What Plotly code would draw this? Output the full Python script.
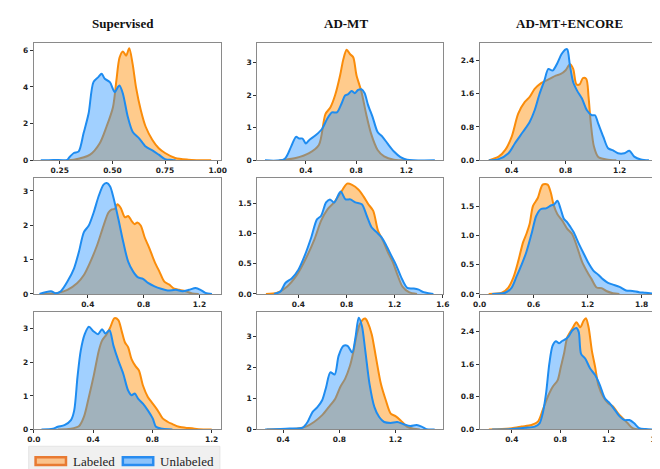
import plotly.graph_objects as go

# ---------------- data (density curves) ----------------
methods = ["Supervised", "AD-MT", "AD-MT+ENCORE"]
series_names = ["Labeled", "Unlabeled"]

# Row 1
r1_sup_lab_x = [0.286, 0.317, 0.394, 0.44, 0.472, 0.503, 0.519, 0.534, 0.55, 0.565, 0.58, 0.596, 0.612, 0.635, 0.658, 0.69, 0.72, 0.75, 0.798, 0.86, 0.969]
r1_sup_lab_y = [0.0, 0.03, 0.31, 0.93, 1.83, 2.91, 4.35, 5.6, 5.93, 5.7, 6.1, 5.25, 3.99, 2.73, 1.83, 1.11, 0.66, 0.40, 0.13, 0.04, 0.0]
r1_sup_unl_x = [0.16, 0.22, 0.286, 0.293, 0.317, 0.34, 0.363, 0.387, 0.41, 0.433, 0.449, 0.464, 0.488, 0.511, 0.526, 0.534, 0.55, 0.573, 0.596, 0.627, 0.658, 0.69, 0.72, 0.75, 0.783, 0.80]
r1_sup_unl_y = [0.0, 0.02, 0.03, 0.13, 0.40, 0.49, 1.47, 2.55, 4.26, 4.53, 4.71, 4.44, 4.26, 3.72, 3.99, 4.08, 3.63, 2.37, 1.56, 1.2, 0.75, 0.54, 0.31, 0.07, 0.02, 0.0]

r1_adm_lab_x = [0.19, 0.32, 0.426, 0.504, 0.556, 0.595, 0.634, 0.673, 0.699, 0.725, 0.751, 0.777, 0.803, 0.842, 0.88, 0.919, 0.971, 1.023, 1.1, 1.2]
r1_adm_lab_y = [0.0, 0.07, 0.22, 0.47, 1.42, 1.62, 2.01, 2.61, 3.11, 3.39, 3.26, 3.16, 2.61, 2.11, 1.42, 0.82, 0.32, 0.12, 0.02, 0.0]
r1_adm_unl_x = [0.075, 0.23, 0.283, 0.322, 0.348, 0.374, 0.4, 0.426, 0.478, 0.53, 0.569, 0.608, 0.647, 0.686, 0.712, 0.738, 0.764, 0.79, 0.816, 0.842, 0.868, 0.894, 0.932, 0.971, 1.01, 1.049, 1.101, 1.153, 1.205, 1.426]
r1_adm_unl_y = [0.0, 0.04, 0.42, 0.72, 0.67, 0.67, 0.52, 0.62, 0.77, 0.97, 1.27, 1.47, 1.47, 1.76, 1.99, 2.03, 2.13, 2.06, 2.16, 2.18, 2.06, 1.71, 1.32, 0.87, 0.72, 0.52, 0.27, 0.10, 0.02, 0.0]

r1_enc_lab_x = [0.23, 0.303, 0.352, 0.4, 0.448, 0.497, 0.533, 0.57, 0.618, 0.655, 0.691, 0.727, 0.764, 0.8, 0.832, 0.856, 0.88, 0.904, 0.928, 0.953, 0.97, 0.987, 1.01, 1.042, 1.103, 1.176]
r1_enc_lab_y = [0.0, 0.09, 0.25, 0.57, 1.12, 1.40, 1.52, 1.71, 1.85, 1.91, 1.97, 2.03, 2.07, 2.16, 2.30, 2.19, 1.82, 1.82, 1.97, 1.95, 1.52, 0.88, 0.33, 0.08, 0.02, 0.0]
r1_enc_unl_x = [0.23, 0.303, 0.376, 0.424, 0.485, 0.533, 0.57, 0.606, 0.642, 0.672, 0.703, 0.74, 0.769, 0.8, 0.812, 0.832, 0.856, 0.885, 0.921, 0.958, 0.994, 1.018, 1.042, 1.079, 1.115, 1.152, 1.188, 1.236, 1.273, 1.309, 1.358, 1.418]
r1_enc_unl_y = [0.0, 0.03, 0.17, 0.41, 0.69, 0.92, 1.2, 1.59, 1.91, 2.19, 2.15, 2.34, 2.54, 2.66, 2.66, 2.27, 1.87, 1.67, 1.48, 1.2, 1.08, 1.08, 0.88, 0.57, 0.29, 0.24, 0.17, 0.17, 0.23, 0.09, 0.02, 0.0]

# Row 2
r2_sup_lab_x = [0.066, 0.184, 0.254, 0.325, 0.372, 0.419, 0.466, 0.513, 0.548, 0.572, 0.595, 0.612, 0.635, 0.666, 0.689, 0.713, 0.736, 0.755, 0.779, 0.807, 0.842, 0.878, 0.913, 0.948, 0.984, 1.019, 1.054, 1.101, 1.148, 1.195]
r2_sup_lab_y = [0.0, 0.03, 0.12, 0.32, 0.55, 0.94, 1.41, 1.99, 2.37, 2.46, 2.48, 2.61, 2.51, 2.23, 2.27, 2.13, 2.03, 2.08, 1.99, 1.65, 1.32, 0.94, 0.65, 0.36, 0.27, 0.15, 0.12, 0.08, 0.01, 0.0]
r2_sup_unl_x = [0.054, 0.136, 0.172, 0.207, 0.254, 0.301, 0.336, 0.372, 0.407, 0.442, 0.478, 0.513, 0.536, 0.56, 0.584, 0.619, 0.654, 0.689, 0.725, 0.76, 0.795, 0.831, 0.878, 0.925, 0.972, 1.031, 1.078, 1.125, 1.172, 1.207, 1.242, 1.289]
r2_sup_unl_y = [0.0, 0.08, 0.02, 0.08, 0.36, 0.74, 1.22, 1.8, 1.99, 2.37, 2.85, 3.18, 3.23, 3.13, 2.8, 2.18, 1.51, 0.94, 0.65, 0.48, 0.44, 0.32, 0.22, 0.15, 0.10, 0.12, 0.08, 0.12, 0.17, 0.12, 0.03, 0.0]

r2_adm_lab_x = [0.13, 0.224, 0.305, 0.386, 0.468, 0.535, 0.589, 0.643, 0.697, 0.751, 0.805, 0.846, 0.9, 0.941, 0.981, 1.022, 1.062, 1.103, 1.143, 1.184, 1.224, 1.265, 1.319, 1.386]
r2_adm_lab_y = [0.0, 0.02, 0.12, 0.31, 0.61, 0.91, 1.21, 1.40, 1.51, 1.67, 1.82, 1.80, 1.72, 1.61, 1.48, 1.37, 1.04, 0.88, 0.69, 0.53, 0.31, 0.12, 0.03, 0.0]
r2_adm_unl_x = [0.197, 0.251, 0.292, 0.346, 0.4, 0.454, 0.508, 0.554, 0.589, 0.63, 0.662, 0.697, 0.751, 0.792, 0.832, 0.873, 0.927, 0.968, 1.008, 1.049, 1.089, 1.13, 1.17, 1.211, 1.251, 1.305, 1.359, 1.4, 1.441, 1.522]
r2_adm_unl_y = [0.0, 0.04, 0.18, 0.26, 0.40, 0.64, 0.94, 1.23, 1.29, 1.51, 1.56, 1.51, 1.69, 1.56, 1.56, 1.51, 1.48, 1.29, 1.10, 1.02, 0.94, 0.80, 0.64, 0.48, 0.29, 0.10, 0.09, 0.07, 0.03, 0.0]

r2_enc_lab_x = [0.1, 0.247, 0.319, 0.374, 0.428, 0.483, 0.519, 0.555, 0.592, 0.646, 0.7, 0.755, 0.791, 0.82, 0.864, 0.918, 0.973, 1.027, 1.082, 1.136, 1.191, 1.245, 1.3, 1.354, 1.408, 1.481, 1.553]
r2_enc_lab_y = [0.0, 0.02, 0.11, 0.28, 0.56, 0.89, 1.03, 1.20, 1.51, 1.65, 1.88, 1.88, 1.74, 1.54, 1.37, 1.26, 1.12, 1.03, 0.81, 0.56, 0.39, 0.25, 0.11, 0.10, 0.05, 0.01, 0.0]
r2_enc_unl_x = [0.138, 0.283, 0.356, 0.41, 0.465, 0.519, 0.581, 0.628, 0.682, 0.737, 0.791, 0.828, 0.864, 0.9, 0.936, 0.973, 1.009, 1.045, 1.1, 1.154, 1.209, 1.263, 1.318, 1.372, 1.426, 1.481, 1.554, 1.626, 1.699, 1.771, 1.844, 1.953]
r2_enc_unl_y = [0.0, 0.02, 0.11, 0.30, 0.50, 0.72, 1.06, 1.34, 1.46, 1.47, 1.52, 1.54, 1.60, 1.46, 1.29, 1.23, 1.15, 1.06, 0.87, 0.70, 0.53, 0.40, 0.33, 0.25, 0.19, 0.16, 0.12, 0.06, 0.05, 0.03, 0.02, 0.0]

# Row 3
r3_sup_lab_x = [0.161, 0.25, 0.305, 0.338, 0.371, 0.404, 0.438, 0.46, 0.488, 0.515, 0.544, 0.57, 0.592, 0.614, 0.636, 0.659, 0.687, 0.709, 0.736, 0.769, 0.802, 0.835, 0.869, 0.902, 0.935, 0.979, 1.045, 1.112, 1.2]
r3_sup_lab_y = [0.0, 0.02, 0.10, 0.38, 0.97, 1.61, 2.35, 2.65, 2.82, 3.04, 3.32, 3.26, 2.94, 2.60, 2.45, 2.10, 1.88, 1.76, 1.31, 0.97, 0.77, 0.57, 0.33, 0.23, 0.16, 0.08, 0.04, 0.01, 0.0]
r3_sup_unl_x = [0.051, 0.128, 0.161, 0.206, 0.25, 0.272, 0.294, 0.316, 0.343, 0.371, 0.404, 0.433, 0.46, 0.482, 0.51, 0.537, 0.57, 0.603, 0.636, 0.659, 0.681, 0.703, 0.736, 0.769, 0.802, 0.824, 0.869, 0.935]
r3_sup_unl_y = [0.0, 0.02, 0.08, 0.13, 0.28, 0.57, 1.56, 2.35, 2.84, 3.06, 2.92, 2.84, 2.99, 2.86, 2.96, 2.50, 2.05, 1.66, 1.16, 1.02, 1.07, 0.92, 0.77, 0.57, 0.33, 0.08, 0.02, 0.0]

r3_adm_lab_x = [0.284, 0.493, 0.562, 0.62, 0.678, 0.725, 0.771, 0.806, 0.841, 0.876, 0.899, 0.922, 0.945, 0.968, 0.985, 1.003, 1.031, 1.061, 1.096, 1.131, 1.166, 1.2, 1.235, 1.282, 1.328, 1.374]
r3_adm_lab_y = [0.0, 0.02, 0.09, 0.24, 0.46, 0.72, 0.99, 1.36, 1.63, 2.05, 2.48, 3.01, 3.38, 3.54, 3.57, 3.44, 3.06, 2.32, 1.47, 0.94, 0.51, 0.43, 0.30, 0.09, 0.02, 0.0]
r3_adm_unl_x = [0.272, 0.446, 0.539, 0.574, 0.609, 0.644, 0.678, 0.706, 0.736, 0.767, 0.795, 0.829, 0.859, 0.892, 0.915, 0.938, 0.961, 0.985, 1.015, 1.05, 1.084, 1.119, 1.166, 1.212, 1.258, 1.305, 1.351, 1.386, 1.421, 1.479]
r3_adm_unl_y = [0.0, 0.03, 0.06, 0.24, 0.56, 0.72, 0.94, 1.36, 1.84, 1.77, 2.37, 2.69, 2.69, 2.48, 2.96, 3.60, 3.33, 2.53, 1.47, 0.72, 0.40, 0.24, 0.21, 0.24, 0.17, 0.11, 0.14, 0.09, 0.01, 0.0]

r3_enc_lab_x = [0.211, 0.319, 0.4, 0.481, 0.562, 0.616, 0.656, 0.697, 0.737, 0.778, 0.805, 0.831, 0.858, 0.899, 0.934, 0.966, 0.993, 1.012, 1.034, 1.061, 1.088, 1.115, 1.155, 1.196, 1.236, 1.276, 1.317, 1.357, 1.398, 1.452]
r3_enc_lab_y = [0.0, 0.01, 0.03, 0.07, 0.11, 0.19, 0.48, 0.80, 1.04, 1.20, 1.53, 1.85, 2.25, 2.46, 2.62, 2.50, 2.66, 2.72, 2.50, 1.93, 1.53, 1.08, 0.80, 0.64, 0.56, 0.40, 0.27, 0.15, 0.03, 0.0]
r3_enc_unl_x = [0.238, 0.4, 0.508, 0.589, 0.629, 0.656, 0.683, 0.71, 0.737, 0.764, 0.791, 0.818, 0.845, 0.872, 0.899, 0.934, 0.953, 0.972, 1.007, 1.047, 1.088, 1.128, 1.169, 1.209, 1.25, 1.29, 1.331, 1.371, 1.411, 1.452, 1.506, 1.56]
r3_enc_unl_y = [0.0, 0.01, 0.04, 0.07, 0.15, 0.40, 0.88, 1.61, 2.05, 2.16, 2.11, 2.17, 2.21, 2.29, 2.42, 2.48, 2.38, 1.85, 1.73, 1.49, 1.33, 1.08, 0.76, 0.64, 0.48, 0.32, 0.23, 0.23, 0.15, 0.03, 0.01, 0.0]

# axis settings per panel (row-major)
x_ranges = [[0.126, 1.015], [0.013, 1.494], [0.162, 1.515],
            [0.012, 1.353], [0.057, 1.605], [0.0, 2.026],
            [-0.002, 1.262], [0.215, 1.541], [0.135, 1.64]]
y_ranges = [[0, 6.41], [0, 3.61], [0, 2.82],
            [0, 3.37], [0, 1.91], [0, 1.99],
            [0, 3.51], [0, 3.79], [0, 2.88]]
x_ticks = [[0.25, 0.5, 0.75, 1.0], [0.4, 0.8, 1.2], [0.4, 0.8, 1.2],
           [0.4, 0.8, 1.2], [0.4, 0.8, 1.2, 1.6], [0.0, 0.6, 1.2, 1.8],
           [0.0, 0.4, 0.8, 1.2], [0.4, 0.8, 1.2], [0.4, 0.8, 1.2, 1.6]]
x_ticktext = [["0.25", "0.50", "0.75", "1.00"], ["0.4", "0.8", "1.2"], ["0.4", "0.8", "1.2"],
              ["0.4", "0.8", "1.2"], ["0.4", "0.8", "1.2", "1.6"], ["0.0", "0.6", "1.2", "1.8"],
              ["0.0", "0.4", "0.8", "1.2"], ["0.4", "0.8", "1.2"], ["0.4", "0.8", "1.2", "1.6"]]
y_ticks = [[0, 2, 4, 6], [0, 1, 2, 3], [0.0, 0.8, 1.6, 2.4],
           [0, 1, 2, 3], [0.0, 0.5, 1.0, 1.5], [0.0, 0.5, 1.0, 1.5],
           [0, 1, 2, 3], [0, 1, 2, 3], [0.0, 0.8, 1.6, 2.4]]
y_ticktext = [["0", "2", "4", "6"], ["0", "1", "2", "3"], ["0.0", "0.8", "1.6", "2.4"],
              ["0", "1", "2", "3"], ["0.0", "0.5", "1.0", "1.5"], ["0.0", "0.5", "1.0", "1.5"],
              ["0", "1", "2", "3"], ["0", "1", "2", "3"], ["0.0", "0.8", "1.6", "2.4"]]

panels = [
    (r1_sup_lab_x, r1_sup_lab_y, r1_sup_unl_x, r1_sup_unl_y),
    (r1_adm_lab_x, r1_adm_lab_y, r1_adm_unl_x, r1_adm_unl_y),
    (r1_enc_lab_x, r1_enc_lab_y, r1_enc_unl_x, r1_enc_unl_y),
    (r2_sup_lab_x, r2_sup_lab_y, r2_sup_unl_x, r2_sup_unl_y),
    (r2_adm_lab_x, r2_adm_lab_y, r2_adm_unl_x, r2_adm_unl_y),
    (r2_enc_lab_x, r2_enc_lab_y, r2_enc_unl_x, r2_enc_unl_y),
    (r3_sup_lab_x, r3_sup_lab_y, r3_sup_unl_x, r3_sup_unl_y),
    (r3_adm_lab_x, r3_adm_lab_y, r3_adm_unl_x, r3_adm_unl_y),
    (r3_enc_lab_x, r3_enc_lab_y, r3_enc_unl_x, r3_enc_unl_y),
]

# ---------------- styling / layout ----------------
W, H = 660, 469
col_px = [(19, 210), (247, 437), (474, 660)]
row_px = [(35, 154), (172, 289), (307, 426)]

ORANGE_LINE = "rgb(250,140,10)"
ORANGE_FILL = "rgba(255,140,0,0.45)"
BLUE_LINE = "rgb(30,140,240)"
BLUE_FILL = "rgba(30,144,255,0.42)"
FRAME = "#8a8a8a"
TICKFONT = dict(family="DejaVu Sans", size=7.5, color="#222", weight="bold")

fig = go.Figure()
layout = dict(width=W, height=H, margin=dict(l=0, r=0, t=0, b=0),
              plot_bgcolor="white", paper_bgcolor="white", showlegend=False)

for i, (lx, ly, ux, uy) in enumerate(panels):
    r, c = divmod(i, 3)
    n = "" if i == 0 else str(i + 1)
    xa, ya = "x" + n, "y" + n
    fig.add_trace(go.Scatter(x=lx, y=ly, mode="lines", fill="tozeroy",
                             line=dict(color=ORANGE_LINE, width=2, shape="spline", smoothing=0.8),
                             fillcolor=ORANGE_FILL, name=series_names[0],
                             xaxis=xa, yaxis=ya))
    fig.add_trace(go.Scatter(x=ux, y=uy, mode="lines", fill="tozeroy",
                             line=dict(color=BLUE_LINE, width=2, shape="spline", smoothing=0.8),
                             fillcolor=BLUE_FILL, name=series_names[1],
                             xaxis=xa, yaxis=ya))
    x0, x1 = col_px[c]
    y0, y1 = row_px[r]
    layout["xaxis" + n] = dict(domain=[x0 / W, x1 / W], range=x_ranges[i], anchor=ya,
                               tickvals=x_ticks[i], ticktext=x_ticktext[i], tickfont=TICKFONT,
                               ticks="outside", ticklen=3, tickwidth=1, tickcolor="#333",
                               showgrid=False, zeroline=False, showline=True,
                               linecolor=FRAME, linewidth=1, mirror=True, fixedrange=True)
    layout["yaxis" + n] = dict(domain=[1 - y1 / H, 1 - y0 / H], range=y_ranges[i], anchor=xa,
                               tickvals=y_ticks[i], ticktext=y_ticktext[i], tickfont=TICKFONT,
                               ticks="outside", ticklen=3, tickwidth=1, tickcolor="#333",
                               showgrid=False, zeroline=False, showline=True,
                               linecolor=FRAME, linewidth=1, mirror=(c != 2), fixedrange=True)

title_x_px = [110, 338, 566]
annotations = []
for t, xp in zip(methods, title_x_px):
    annotations.append(dict(text="<b>%s</b>" % t, x=xp / W, y=1 - 16 / H, xref="paper", yref="paper",
                            xanchor="center", yanchor="middle", showarrow=False,
                            font=dict(family="Liberation Serif", size=13, color="#111")))

# legend drawn as a box with two patches and their labels (pixel positions -> paper coords)
def px_x(p):
    return p / W


def px_y(p):
    return 1 - p / H


shapes = [dict(type="rect", xref="paper", yref="paper", x0=px_x(14), x1=px_x(209),
               y0=px_y(480), y1=px_y(443), fillcolor="#f0f0f0", line=dict(color="#e4e4e4", width=1),
               layer="below")]
legend_items = [(series_names[0], 21, "rgb(250,195,140)", "rgb(232,122,50)"),
                (series_names[1], 110, "rgb(140,195,250)", "rgb(40,140,240)")]
for name, lx0, fc, lc in legend_items:
    shapes.append(dict(type="rect", xref="paper", yref="paper", x0=px_x(lx0), x1=px_x(lx0 + 31),
                       y0=px_y(462), y1=px_y(454), fillcolor=fc, line=dict(color=lc, width=2.5)))
    annotations.append(dict(text=name, x=px_x(lx0 + 36), y=px_y(458.5), xref="paper", yref="paper",
                            xanchor="left", yanchor="middle", showarrow=False,
                            font=dict(family="Liberation Serif", size=13, color="#222")))

layout["annotations"] = annotations
layout["shapes"] = shapes
fig.update_layout(**layout)
fig.write_html("out.html")
